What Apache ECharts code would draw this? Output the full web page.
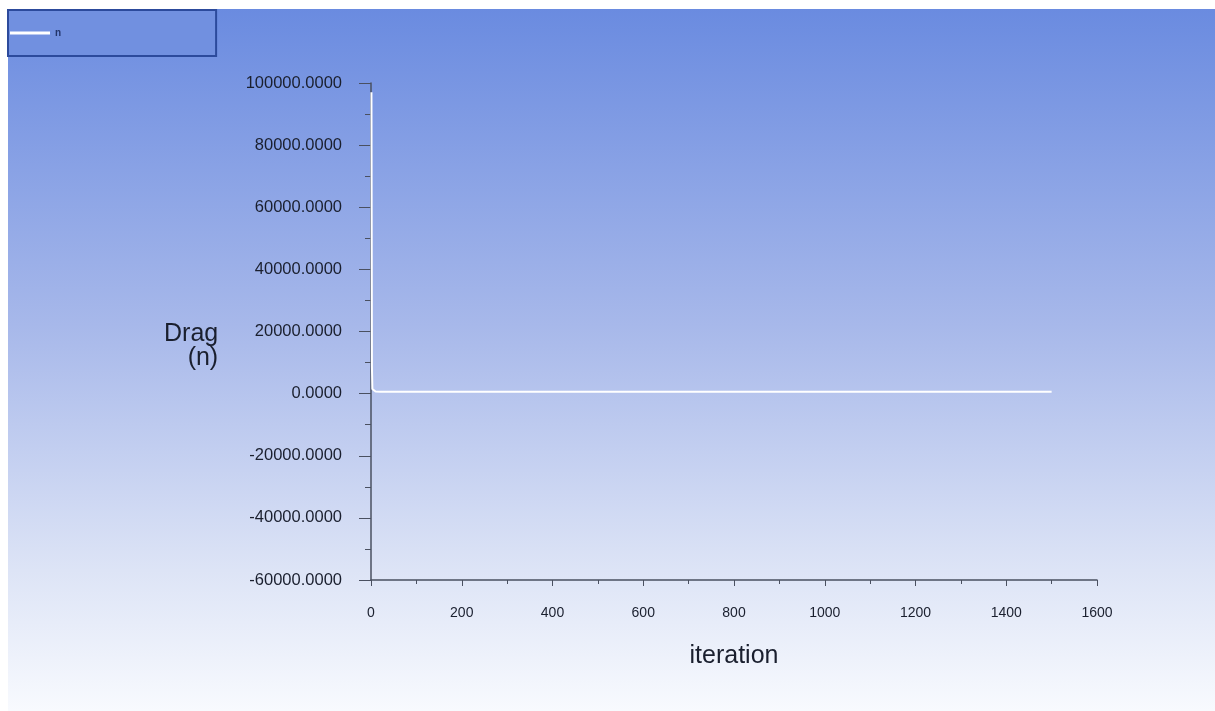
<!DOCTYPE html>
<html>
<head>
<meta charset="utf-8">
<script src="https://cdn.jsdelivr.net/npm/echarts@6/dist/echarts.min.js"></script>
<style>
html,body{margin:0;padding:0;background:#ffffff;}
#c{width:1215px;height:711px;}
</style>
</head>
<body>
<div id="c"></div>
<script>
const seriesName = 'n';
const iterations = [1, 2, 3, 4, 5, 10, 20, 50, 100, 200, 400, 600, 800, 1000, 1200, 1400, 1500];
const drag = [97000, 9000, 1500, 900, 750, 650, 620, 600, 600, 590, 590, 590, 590, 590, 590, 590, 590];
const xTicks = [0, 200, 400, 600, 800, 1000, 1200, 1400, 1600];
const yTicks = [-60000, -40000, -20000, 0, 20000, 40000, 60000, 80000, 100000];

const chart = echarts.init(document.getElementById('c'), null, {renderer: 'canvas'});
const font = '"Liberation Sans", Arial, sans-serif';
const axisCol = '#4a5060';
const txtCol = '#1a1f2e';
chart.setOption({
  animation: false,
  graphic: [
    {type: 'rect', z: -10, silent: true,
     shape: {x: 8, y: 9, width: 1207, height: 702},
     style: {fill: new echarts.graphic.LinearGradient(0, 0, 0, 1, [
       {offset: 0, color: '#6a8be0'},
       {offset: 0.45, color: '#a7b8ea'},
       {offset: 0.8, color: '#dde4f6'},
       {offset: 1, color: '#f8fafe'}
     ])}},
    {type: 'text', left: 164, top: 322,
     style: {text: 'Drag\n(n)', font: '25px ' + font, fill: txtCol, lineHeight: 24, textAlign: 'right'}}
  ],
  legend: {
    left: 8, top: 10,
    data: [seriesName],
    icon: 'rect', itemWidth: 40, itemHeight: 3, itemGap: 4,
    textStyle: {fontSize: 10, color: '#22346a', fontFamily: font, fontWeight: 'bold'},
    backgroundColor: '#7190e0', borderColor: '#2c4a9c', borderWidth: 2,
    padding: [18, 155, 18, 2]
  },
  grid: {left: 371, top: 83, right: 118, bottom: 131},
  xAxis: {
    type: 'value', min: 0, max: 1600, interval: 200,
    name: 'iteration', nameLocation: 'middle', nameGap: 64,
    nameTextStyle: {fontSize: 25, color: txtCol, fontFamily: font},
    axisLine: {onZero: false, lineStyle: {color: axisCol, width: 1.5}},
    axisTick: {show: true, length: 6, lineStyle: {color: axisCol}},
    minorTick: {show: true, splitNumber: 2, length: 4, lineStyle: {color: axisCol}},
    splitLine: {show: false},
    axisLabel: {fontSize: 14, color: txtCol, fontFamily: font, margin: 26,
      formatter: v => xTicks.includes(v) ? String(v) : ''}
  },
  yAxis: {
    type: 'value', min: -60000, max: 100000, interval: 20000,
    axisLine: {show: true, onZero: false, lineStyle: {color: axisCol, width: 1.5}},
    axisTick: {show: true, length: 12, lineStyle: {color: axisCol}},
    minorTick: {show: true, splitNumber: 2, length: 6, lineStyle: {color: axisCol}},
    splitLine: {show: false},
    axisLabel: {fontSize: 16.5, color: txtCol, fontFamily: font, margin: 29,
      formatter: v => yTicks.includes(v) ? v.toFixed(4) : ''}
  },
  series: [{
    name: seriesName, type: 'line', showSymbol: false,
    data: iterations.map((x, i) => [x, drag[i]]),
    lineStyle: {color: '#ffffff', width: 2},
    itemStyle: {color: '#ffffff'}
  }]
});
</script>
</body>
</html>
